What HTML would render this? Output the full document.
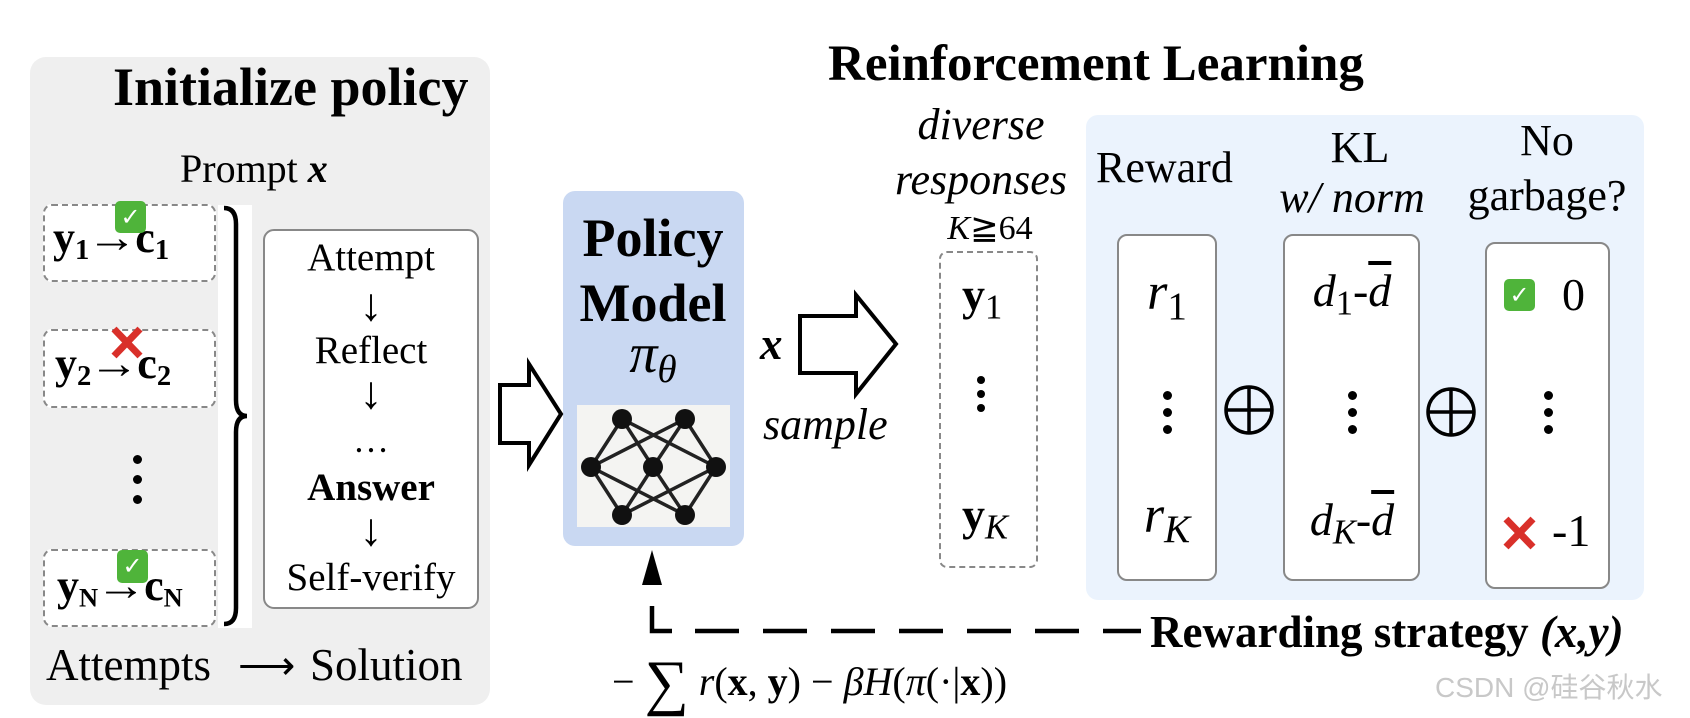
<!DOCTYPE html>
<html><head><meta charset="utf-8"><style>
html,body{margin:0;padding:0;background:#fff;}
#c{position:relative;width:1690px;height:718px;overflow:hidden;font-family:"Liberation Serif",serif;color:#000;}
.t{position:absolute;white-space:nowrap;line-height:1;}
.cx{transform:translateX(-50%);}
.b{font-weight:bold;}
.i{font-style:italic;}
sub{font-size:0.65em;vertical-align:-0.25em;line-height:0;}
.box{position:absolute;box-sizing:border-box;}
.dot{position:absolute;width:9px;height:9px;border-radius:50%;background:#000;}
.chk{position:absolute;background:#4fb43a;border-radius:5px;color:#fff;font-family:"DejaVu Sans",sans-serif;font-weight:bold;text-align:center;}
.ar{font-weight:normal;font-size:44px;display:inline-block;transform:scaleX(1.15);margin:0 1px;}
</style></head><body><div id="c">

<div class="box" style="left:30px;top:57px;width:460px;height:648px;background:#efefef;border-radius:16px;"></div>
<div class="t b" style="left:113px;top:60px;font-size:54px;">Initialize policy</div>
<div class="t" style="left:180px;top:149px;font-size:40px;">Prompt <span class="b i">x</span></div>

<div class="box" style="left:43px;top:204px;width:173px;height:78px;background:#fff;border:2px dashed #888;border-radius:9px;"></div>
<div class="box" style="left:43px;top:329px;width:173px;height:79px;background:#fff;border:2px dashed #888;border-radius:9px;"></div>
<div class="box" style="left:43px;top:549px;width:173px;height:78px;background:#fff;border:2px dashed #888;border-radius:9px;"></div>

<div class="t b" style="left:53px;top:216px;font-size:44px;">y<sub>1</sub><span class="ar">→</span>c<sub>1</sub></div>
<div class="t b" style="left:55px;top:342px;font-size:44px;">y<sub>2</sub><span class="ar">→</span>c<sub>2</sub></div>
<div class="t b" style="left:57px;top:564px;font-size:44px;">y<sub style="font-size:0.6em">N</sub><span class="ar">→</span>c<sub style="font-size:0.6em">N</sub></div>
<div class="chk" style="left:115px;top:201px;width:31px;height:32px;font-size:24px;line-height:32px;">✓</div>
<div class="chk" style="left:117px;top:550px;width:31px;height:33px;font-size:24px;line-height:33px;">✓</div>
<svg class="box" style="left:110px;top:326px;" width="36" height="34"><path d="M4,3 L30,30 M30,3 L4,30" stroke="#d9302a" stroke-width="7"/></svg>
<div class="dot" style="left:133px;top:455px;"></div>
<div class="dot" style="left:133px;top:475px;"></div>
<div class="dot" style="left:133px;top:495px;"></div>

<div class="box" style="left:218px;top:205px;width:34px;height:423px;background:#fff;"></div>
<svg class="box" style="left:0;top:0;" width="1690" height="718">
<path d="M224,208 Q236,208 236,224 L236,400 Q236,416 247,416 Q236,416 236,432 L236,608 Q236,624 224,624" fill="none" stroke="#000" stroke-width="4.5"/>
</svg>

<div class="box" style="left:263px;top:229px;width:216px;height:380px;background:#fff;border:2px solid #888;border-radius:11px;"></div>
<div class="t cx" style="left:371px;top:238px;font-size:39px;">Attempt</div>
<div class="t cx" style="left:371px;top:282px;font-size:46px;">↓</div>
<div class="t cx" style="left:371px;top:331px;font-size:39px;">Reflect</div>
<div class="t cx" style="left:371px;top:370px;font-size:46px;">↓</div>
<div class="t cx" style="left:371px;top:422px;font-size:36px;">…</div>
<div class="t cx b" style="left:371px;top:468px;font-size:39px;">Answer</div>
<div class="t cx" style="left:371px;top:507px;font-size:46px;">↓</div>
<div class="t cx" style="left:371px;top:558px;font-size:39px;">Self-verify</div>

<div class="t" style="left:46px;top:643px;font-size:45px;">Attempts</div>
<div class="t" style="left:238px;top:646px;font-size:40px;">⟶</div>
<div class="t" style="left:310px;top:643px;font-size:45px;">Solution</div>

<div class="box" style="left:1086px;top:115px;width:558px;height:485px;background:#ebf3fd;border-radius:12px;"></div>

<div class="box" style="left:563px;top:191px;width:181px;height:355px;background:#c9d8f2;border-radius:12px;"></div>
<div class="t cx b" style="left:653px;top:211px;font-size:54px;">Policy</div>
<div class="t cx b" style="left:653px;top:276px;font-size:54px;">Model</div>
<div class="t cx i" style="left:653px;top:326px;font-size:56px;">π<sub style="font-size:0.7em">θ</sub></div>
<div class="box" style="left:577px;top:405px;width:153px;height:122px;background:#f4f4f2;"></div>

<div class="t b i" style="left:760px;top:322px;font-size:45px;">x</div>
<div class="t i" style="left:763px;top:403px;font-size:44px;">sample</div>

<div class="t b" style="left:828px;top:39px;font-size:51px;">Reinforcement Learning</div>
<div class="t cx i" style="left:981px;top:103px;font-size:44px;">diverse</div>
<div class="t cx i" style="left:981px;top:158px;font-size:44px;">responses</div>
<div class="t cx" style="left:990px;top:212px;font-size:34px;"><i>K</i>≧64</div>

<div class="box" style="left:939px;top:251px;width:99px;height:317px;border:2px dashed #888;border-radius:8px;"></div>
<div class="t" style="left:962px;top:272px;font-size:46px;"><b>y</b><sub style="font-size:0.75em">1</sub></div>
<div class="t" style="left:962px;top:492px;font-size:46px;"><b>y</b><sub style="font-size:0.75em" class="i">K</sub></div>
<div class="dot" style="left:977px;top:376px;width:8px;height:8px"></div>
<div class="dot" style="left:977px;top:390px;width:8px;height:8px"></div>
<div class="dot" style="left:977px;top:404px;width:8px;height:8px"></div>

<div class="t" style="left:1096px;top:146px;font-size:44px;">Reward</div>
<div class="t cx" style="left:1360px;top:126px;font-size:44px;">KL</div>
<div class="t cx i" style="left:1352px;top:176px;font-size:44px;">w/ norm</div>
<div class="t cx" style="left:1547px;top:119px;font-size:44px;">No</div>
<div class="t cx" style="left:1547px;top:174px;font-size:44px;">garbage?</div>

<div class="box" style="left:1117px;top:234px;width:100px;height:347px;background:#fff;border:2px solid #888;border-radius:10px;"></div>
<div class="box" style="left:1283px;top:234px;width:137px;height:347px;background:#fff;border:2px solid #888;border-radius:10px;"></div>
<div class="box" style="left:1485px;top:242px;width:125px;height:347px;background:#fff;border:2px solid #888;border-radius:10px;"></div>

<div class="t cx" style="left:1167px;top:267px;font-size:52px;"><i>r</i><sub style="font-size:0.75em">1</sub></div>
<div class="t cx" style="left:1167px;top:490px;font-size:52px;"><i>r</i><sub style="font-size:0.75em" class="i">K</sub></div>
<div class="t cx" style="left:1352px;top:268px;font-size:46px;"><i>d</i><sub style="font-size:0.75em">1</sub>-<i style="text-decoration:overline">d</i></div>
<div class="t cx" style="left:1352px;top:497px;font-size:46px;"><i>d</i><sub style="font-size:0.75em" class="i">K</sub>-<i style="text-decoration:overline">d</i></div>

<div class="dot" style="left:1163px;top:391px;"></div>
<div class="dot" style="left:1163px;top:408px;"></div>
<div class="dot" style="left:1163px;top:425px;"></div>
<div class="dot" style="left:1348px;top:391px;"></div>
<div class="dot" style="left:1348px;top:408px;"></div>
<div class="dot" style="left:1348px;top:425px;"></div>
<div class="dot" style="left:1544px;top:391px;"></div>
<div class="dot" style="left:1544px;top:408px;"></div>
<div class="dot" style="left:1544px;top:425px;"></div>

<div class="chk" style="left:1504px;top:279px;width:31px;height:32px;font-size:24px;line-height:32px;">✓</div>
<div class="t" style="left:1562px;top:272px;font-size:46px;">0</div>
<svg class="box" style="left:1502px;top:516px;" width="36" height="34"><path d="M4,3 L31,31 M31,3 L4,31" stroke="#d9302a" stroke-width="7"/></svg>
<div class="t" style="left:1552px;top:508px;font-size:46px;">-1</div>

<div class="t b" style="left:1150px;top:610px;font-size:45px;">Rewarding strategy <i>(x,y)</i></div>
<div class="t" style="left:612px;top:652px;font-size:40px;">− <span style="font-size:62px;vertical-align:-8px;">∑</span> <i>r</i>(<b>x</b>, <b>y</b>) − <i>βH</i>(<i>π</i>(·|<b>x</b>))</div>
<div class="t" style="left:1435px;top:674px;font-size:28px;color:#c8c8c8;font-family:'Liberation Sans','Noto Sans CJK SC',sans-serif;">CSDN @硅谷秋水</div>

<svg class="box" style="left:0;top:0;" width="1690" height="718">
<polygon points="500,385 529,385 529,364 561,414 529,465 529,443 500,443" fill="#fff" stroke="#000" stroke-width="4"/>
<polygon points="800,316 856,316 856,295 896,344 856,394 856,373 800,373" fill="#fff" stroke="#000" stroke-width="4"/>
<g fill="none" stroke="#000" stroke-width="3.5">
<circle cx="1249" cy="410" r="23"/><path d="M1226,410 H1272 M1249,387 V433"/>
<circle cx="1451" cy="412" r="23"/><path d="M1428,412 H1474 M1451,389 V435"/>
</g>
<g stroke="#222" stroke-width="3.5">
<line x1="622" y1="419" x2="591" y2="467"/><line x1="622" y1="419" x2="653" y2="467"/><line x1="622" y1="419" x2="716" y2="467"/>
<line x1="685" y1="419" x2="591" y2="467"/><line x1="685" y1="419" x2="653" y2="467"/><line x1="685" y1="419" x2="716" y2="467"/>
<line x1="622" y1="515" x2="591" y2="467"/><line x1="622" y1="515" x2="653" y2="467"/><line x1="622" y1="515" x2="716" y2="467"/>
<line x1="685" y1="515" x2="591" y2="467"/><line x1="685" y1="515" x2="653" y2="467"/><line x1="685" y1="515" x2="716" y2="467"/>
</g>
<g fill="#111">
<circle cx="622" cy="419" r="10"/><circle cx="685" cy="419" r="10"/>
<circle cx="591" cy="467" r="10"/><circle cx="653" cy="467" r="10"/><circle cx="716" cy="467" r="10"/>
<circle cx="622" cy="515" r="10"/><circle cx="685" cy="515" r="10"/>
</g>
<polygon points="652,550 642,585 662,585" fill="#000"/>
<path d="M652,606 V631 H672" fill="none" stroke="#000" stroke-width="4.5"/>
<path d="M695,631 H1141" fill="none" stroke="#000" stroke-width="4.5" stroke-dasharray="44,24"/>
</svg>

</div></body></html>
